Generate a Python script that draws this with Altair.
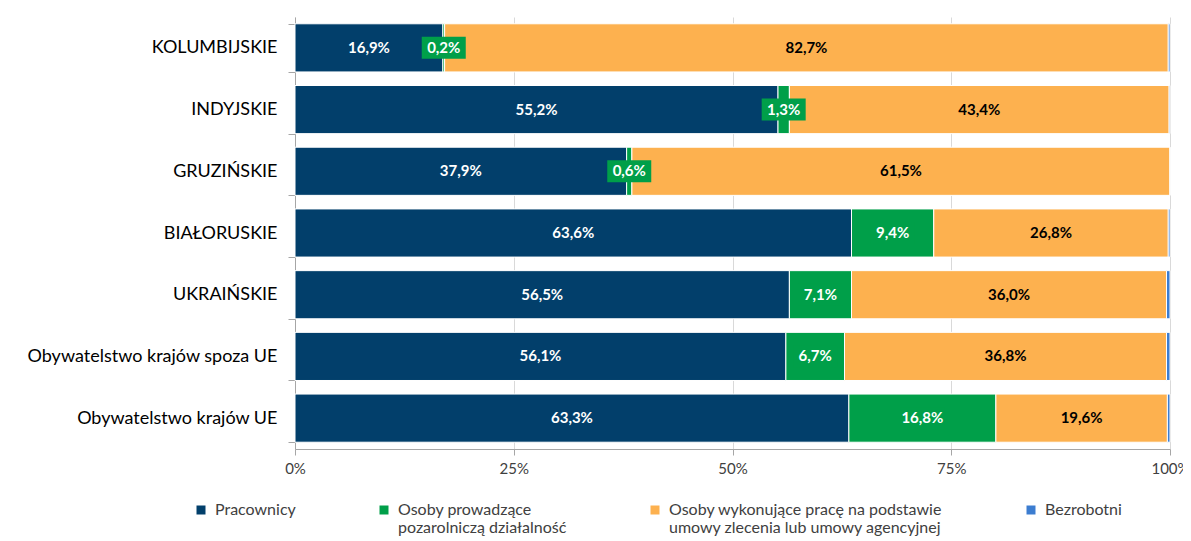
import altair as alt
import pandas as pd

categories = ["KOLUMBIJSKIE", "INDYJSKIE", "GRUZIŃSKIE", "BIAŁORUSKIE", "UKRAIŃSKIE",
              "Obywatelstwo krajów spoza UE", "Obywatelstwo krajów UE"]
series = ["Pracownicy",
          "Osoby prowadzące pozarolniczą działalność",
          "Osoby wykonujące pracę na podstawie umowy zlecenia lub umowy agencyjnej",
          "Bezrobotni"]
legend_lines = {
    series[0]: ["Pracownicy", ""],
    series[1]: ["Osoby prowadzące", "pozarolniczą działalność"],
    series[2]: ["Osoby wykonujące pracę na podstawie", "umowy zlecenia lub umowy agencyjnej"],
    series[3]: ["Bezrobotni", ""],
}
pracownicy = [16.9, 55.2, 37.9, 63.6, 56.5, 56.1, 63.3]
dzialalnosc = [0.2, 1.3, 0.6, 9.4, 7.1, 6.7, 16.8]
zlecenia = [82.7, 43.4, 61.5, 26.8, 36.0, 36.8, 19.6]
bezrobotni = [0.2, 0.1, 0.0, 0.2, 0.4, 0.4, 0.3]
colors = ["#023F6B", "#009F49", "#FDB14F", "#3C7DD0"]

rows = []
for i, c in enumerate(categories):
    start = 0.0
    for k, vals in enumerate([pracownicy, dzialalnosc, zlecenia, bezrobotni]):
        v = vals[i]
        rows.append({"cat": c, "series": series[k], "ord": k, "value": v,
                     "start": start, "end": start + v, "mid": start + v / 2,
                     "label": f"{v:.1f}".replace(".", ",") + "%"})
        start += v
df = pd.DataFrame(rows)

FONT = "Lato"
y_enc = alt.Y("cat:N", sort=categories, title=None,
              scale=alt.Scale(paddingInner=0.22, paddingOuter=0.11),
              axis=alt.Axis(tickBand="extent", tickSize=7, tickColor="#a6a6a6",
                            domainColor="#a6a6a6", labelFontSize=18, labelColor="#000000",
                            labelPadding=11, labelFont=FONT, labelLimit=400))
x_scale = alt.Scale(domain=[0, 100], nice=False)

legend_expr = "{" + ",".join(
    f"'{k}': [{', '.join(repr(s) for s in v)}]" for k, v in legend_lines.items()) + "}"

base = alt.Chart(df)
bars = base.mark_bar(stroke="white", strokeWidth=1).encode(
    x=alt.X("start:Q", scale=x_scale, title=None,
            axis=alt.Axis(values=[0, 25, 50, 75, 100], labelExpr="datum.value + '%'",
                          grid=True, gridColor="#d9d9d9", domainColor="#a6a6a6",
                          tickColor="#a6a6a6", tickSize=6, labelPadding=6, labelFlush=False,
                          labelFontSize=15, labelColor="#404040", labelFont=FONT)),
    x2="end:Q",
    y=y_enc,
    color=alt.Color("series:N", scale=alt.Scale(domain=series, range=colors),
                    legend=alt.Legend(title=None, orient="none", legendX=-102, legendY=485,
                                      direction="horizontal", columns=4, columnPadding=80,
                                      symbolType="square", symbolSize=81, symbolStrokeWidth=0,
                                      labelFontSize=16, labelFont=FONT, labelColor="#404040",
                                      labelOffset=6, labelBaseline="middle", labelLimit=400,
                                      labelExpr=f"({legend_expr})[datum.label]", padding=0)),
    order=alt.Order("ord:Q"),
)

boxes = base.transform_filter(alt.datum.ord == 1).mark_point(
    shape="M-1,-0.5L1,-0.5L1,0.5L-1,0.5Z", filled=True, size=44 * 44,
    color="#009F49", opacity=1, strokeWidth=0).encode(
    x=alt.X("mid:Q", scale=x_scale), y=alt.Y("cat:N", sort=categories))

white_text = base.transform_filter(alt.datum.ord <= 1).mark_text(
    color="white", fontWeight="bold", fontSize=15, font=FONT).encode(
    x=alt.X("mid:Q", scale=x_scale), y=alt.Y("cat:N", sort=categories), text="label:N")

black_text = base.transform_filter(alt.datum.ord == 2).mark_text(
    color="black", fontWeight="bold", fontSize=15, font=FONT).encode(
    x=alt.X("mid:Q", scale=x_scale), y=alt.Y("cat:N", sort=categories), text="label:N")

chart = alt.layer(bars, boxes, white_text, black_text).properties(
    width=875, height=432,
    autosize=alt.AutoSizeParams(type="none"),
    padding={"left": 287, "top": 9, "right": 13, "bottom": 92},
).configure_view(stroke=None).configure_axis(labelFont=FONT)

chart.save("out.html", embed_options={"renderer": "svg", "actions": False})
